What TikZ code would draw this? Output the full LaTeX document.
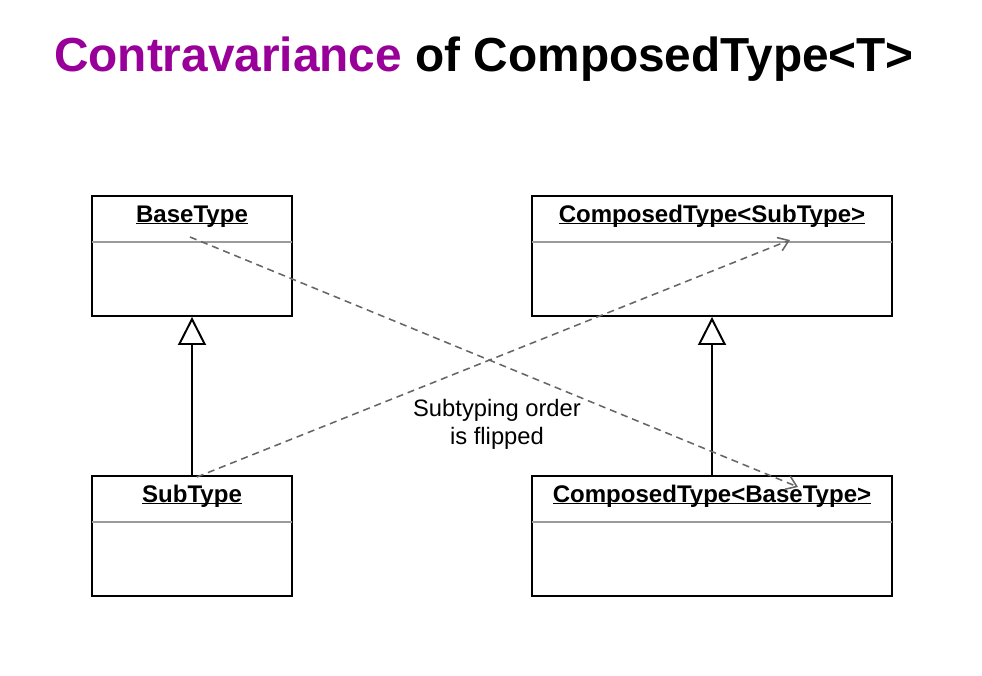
\documentclass[tikz,border=0pt]{standalone}
\usepackage{fontspec}
\setmainfont{Liberation Sans}
\usetikzlibrary{arrows.meta,positioning,calc}
\definecolor{titlepurple}{RGB}{153,0,153}
\definecolor{sepgray}{RGB}{155,155,155}
\definecolor{dashgray}{RGB}{102,102,102}
% underline sitting close to the baseline
\newcommand{\classul}[1]{\setbox0\hbox{#1}\rlap{\rule[-1.7pt]{\wd0}{1.1pt}}\box0}

\begin{document}
\begin{tikzpicture}[
    classbox/.style={draw, line width=1.4pt, minimum height=3cm, inner sep=0pt},
    classname/.style={font=\fontsize{17.1}{20}\selectfont\bfseries, anchor=base},
    divider/.style={draw=sepgray, line width=1.4pt},
    inherit/.style={line width=1.4pt, -{Triangle[open, length=0.7cm, width=0.7cm, line width=1.4pt]}},
    flip/.style={dashgray, line width=1.1pt, dash pattern=on 5pt off 3.5pt, -{Straight Barb[length=7pt, width=10pt]}}
  ]
  \useasboundingbox (0,0) rectangle (24.55,-16.9);

  \node[anchor=base, font=\fontsize{34}{40}\selectfont\bfseries] (title) at (12.1,-1.8)
    {\textcolor{titlepurple}{Contravariance} of ComposedType<T>};

  % the four classes
  \node[classbox, minimum width=5cm] (base) at (4.8,-6.4) {};
  \node[classbox, minimum width=9cm] (compsub) at (17.8,-6.4) {};
  \node[classbox, minimum width=5cm] (sub) at (4.8,-13.4) {};
  \node[classbox, minimum width=9cm] (compbase) at (17.8,-13.4) {};

  \node[classname] (basename) at ($(base.north)+(0,-0.675)$) {\classul{BaseType}};
  \node[classname] (compsubname) at ($(compsub.north)+(0,-0.675)$) {\classul{ComposedType<SubType>}};
  \node[classname] (subname) at ($(sub.north)+(0,-0.675)$) {\classul{SubType}};
  \node[classname] (compbasename) at ($(compbase.north)+(0,-0.675)$) {\classul{ComposedType<BaseType>}};

  \draw[divider] ($(base.north west)+(0.03,-1.175)$) -- ($(base.north east)+(-0.03,-1.175)$);
  \draw[divider] ($(compsub.north west)+(0.03,-1.175)$) -- ($(compsub.north east)+(-0.03,-1.175)$);
  \draw[divider] ($(sub.north west)+(0.03,-1.175)$) -- ($(sub.north east)+(-0.03,-1.175)$);
  \draw[divider] ($(compbase.north west)+(0.03,-1.175)$) -- ($(compbase.north east)+(-0.03,-1.175)$);

  % subtyping
  \draw[inherit] (sub.north) -- (base.south);
  \draw[inherit] (compbase.north) -- (compsub.south);

  % flipped order
  \coordinate (basestart) at ($(base.center)+(-0.05,0.475)$);
  \coordinate (compbaseend) at ($(compbase.center)+(2.15,1.225)$);
  \coordinate (substart) at ($(sub.north)+(0.12,-0.05)$);
  \coordinate (compsubend) at ($(compsub.center)+(1.95,0.4)$);
  \draw[flip] (basestart) -- (compbaseend);
  \draw[flip] (substart) -- (compsubend);

  \node[align=center, font=\fontsize{16.9}{20}\selectfont] (flipped) at (12.425,-10.6)
    {Subtyping order\\is flipped};
\end{tikzpicture}
\end{document}
